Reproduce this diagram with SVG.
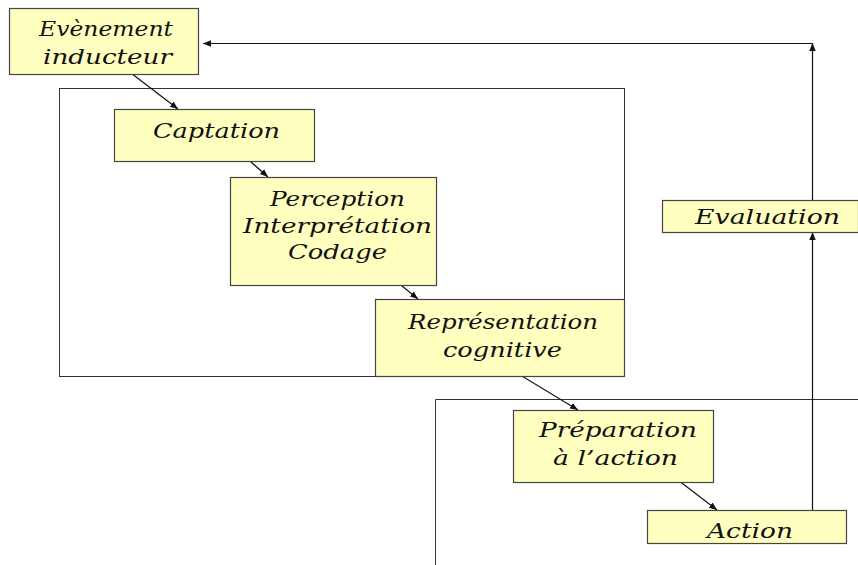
<svg xmlns="http://www.w3.org/2000/svg" width="858" height="565" viewBox="0 0 858 565">
<style>
.frame{fill:none;stroke:#333;stroke-width:1}
.box{fill:#FFFFC0;stroke:#444;stroke-width:1.2}
.lbl{font-family:"DejaVu Serif",serif;font-style:italic;font-size:20px;fill:#111}
.con{fill:none;stroke:#111;stroke-width:1.2;marker-end:url(#ah)}
</style>
<defs>
<marker id="ah" viewBox="0 0 10 10" refX="10" refY="5" markerWidth="8" markerHeight="8" markerUnits="userSpaceOnUse" orient="auto">
<path d="M0,1 L10,5 L0,9 Z" fill="#111"/>
</marker>
</defs>
<rect width="858" height="565" fill="#fff"/>
<g id="frames">
<rect class="frame" x="59.5" y="88.5" width="565" height="288"/>
<path class="frame" d="M435.5,565 V399.5 H858"/>
</g>
<g id="connectors">
<path class="con" d="M123,67 L178,109"/>
<path class="con" d="M242,154 L268,177"/>
<path class="con" d="M391,277 L418,299"/>
<path class="con" d="M507,367 L578,410"/>
<path class="con" d="M674,477 L717,510"/>
<path class="con" d="M812.5,510 V232"/>
<path class="con" d="M812.5,200 V43"/>
<path class="con" d="M812.5,43.5 H203"/>
</g>
<g id="evenement">
<rect class="box" x="9.5" y="8.5" width="189" height="66"/>
<text class="lbl" x="39" y="36" textLength="134" lengthAdjust="spacingAndGlyphs">Evènement</text>
<text class="lbl" x="43" y="64" textLength="129" lengthAdjust="spacingAndGlyphs">inducteur</text>
</g>
<g id="captation">
<rect class="box" x="114.5" y="109.5" width="200" height="52"/>
<text class="lbl" x="153" y="138" textLength="127" lengthAdjust="spacingAndGlyphs">Captation</text>
</g>
<g id="perception">
<rect class="box" x="230.5" y="177.5" width="206" height="108"/>
<text class="lbl" x="270" y="206" textLength="135" lengthAdjust="spacingAndGlyphs">Perception</text>
<text class="lbl" x="243" y="233" textLength="189" lengthAdjust="spacingAndGlyphs">Interprétation</text>
<text class="lbl" x="288" y="259" textLength="99" lengthAdjust="spacingAndGlyphs">Codage</text>
</g>
<g id="representation">
<rect class="box" x="375.5" y="299.5" width="249" height="77"/>
<text class="lbl" x="408" y="329" textLength="190" lengthAdjust="spacingAndGlyphs">Représentation</text>
<text class="lbl" x="443" y="357" textLength="119" lengthAdjust="spacingAndGlyphs">cognitive</text>
</g>
<g id="preparation">
<rect class="box" x="513.5" y="410.5" width="200" height="72"/>
<text class="lbl" x="539" y="437" textLength="158" lengthAdjust="spacingAndGlyphs">Préparation</text>
<text class="lbl" x="553" y="465" textLength="125" lengthAdjust="spacingAndGlyphs">à l’action</text>
</g>
<g id="action">
<rect class="box" x="647.5" y="510.5" width="199" height="33"/>
<text class="lbl" x="707" y="538" textLength="86" lengthAdjust="spacingAndGlyphs">Action</text>
</g>
<g id="evaluation">
<rect class="box" x="662.5" y="200.5" width="196" height="32"/>
<text class="lbl" x="695" y="224" textLength="145" lengthAdjust="spacingAndGlyphs">Evaluation</text>
</g>
</svg>
